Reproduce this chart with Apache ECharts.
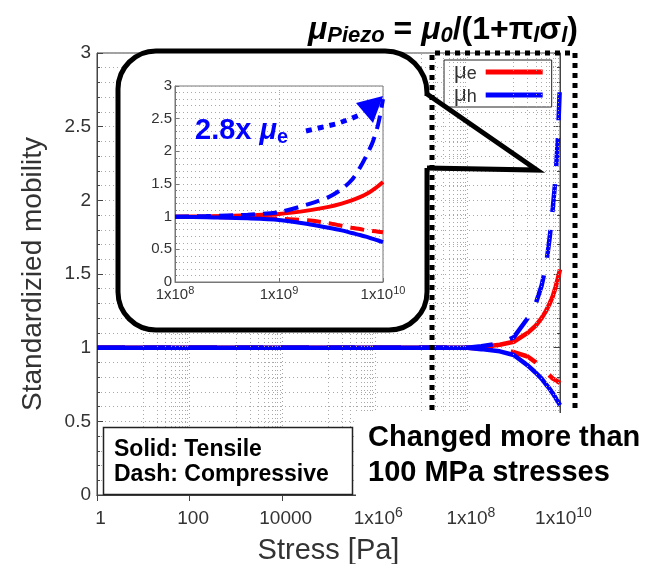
<!DOCTYPE html>
<html>
<head>
<meta charset="utf-8">
<script src="https://cdn.jsdelivr.net/npm/echarts@6/dist/echarts.min.js"></script>
<style>
  html, body { margin: 0; padding: 0; background: #fff; }
  #chart { width: 663px; height: 564px; }
</style>
</head>
<body>
<div id="chart"></div>
<script>
// Applied stress [Pa]
const stress = [1, 10, 100, 1e3, 1e4, 1e5, 1e6, 1e7, 1e8, 2e8, 5e8, 1e9, 2e9, 3e9, 4e9, 5e9, 6e9, 7e9, 8e9, 9e9, 1e10];

// Standardized mobility (mu / mu0)
const electronTensile     = [1, 1, 1, 1, 1, 1, 1, 1, 1.0, 1.005, 1.02, 1.04, 1.1, 1.15, 1.2, 1.25, 1.3, 1.35, 1.41, 1.47, 1.53];
const electronCompressive = [1, 1, 1, 1, 1, 1, 1, 1, 1.0, 0.995, 0.985, 0.97, 0.94, 0.9, 0.86, 0.83, 0.81, 0.79, 0.78, 0.77, 0.76];
const holeTensile         = [1, 1, 1, 1, 1, 1, 1, 1, 1.0, 0.99, 0.975, 0.95, 0.88, 0.83, 0.79, 0.75, 0.72, 0.69, 0.66, 0.635, 0.61];
const holeCompressive     = [1, 1, 1, 1, 1, 1, 1, 1, 1.0, 1.01, 1.03, 1.07, 1.2, 1.3, 1.42, 1.56, 1.75, 1.95, 2.15, 2.42, 2.8];

// Axis ticks
const mainXTicks = [1, 100, 1e4, 1e6, 1e8, 1e10];
const insetXTicks = [1e8, 1e9, 1e10];
const yTicks = [0, 0.5, 1, 1.5, 2, 2.5, 3];

const RED = '#ff0000';
const BLUE = '#0000ff';
const FRAME = '#444';
const TXT = '#333';
const FONT = '"Liberation Sans", Arial, sans-serif';
const GRID_DOT = { color: '#a8a8a8', width: 1, type: [1, 3] };

// minor log grid: 10..90, 1000..9000, ... within every second decade
const mainMinorGrid = [];
[1e1, 1e3, 1e5, 1e7, 1e9].forEach(d => { for (let k = 1; k <= 9; k++) mainMinorGrid.push(k * d); });
const insetMinorGrid = [];
[1e8, 1e9].forEach(d => { for (let k = 2; k <= 9; k++) insetMinorGrid.push(k * d); });

function pairs(vals, minX) {
  const out = [];
  stress.forEach((s, i) => { if (s >= (minX || 0)) out.push([s, vals[i]]); });
  return out;
}

function powLabel(list) {
  return function (v) {
    const e = Math.round(Math.log10(v));
    if (!list.some(t => Math.abs(Math.log10(t) - e) < 1e-6)) return '';
    return e < 6 ? String(Math.round(v)) : '1x10{sup|' + e + '}';
  };
}
function yLabel(v) {
  return yTicks.some(t => Math.abs(t - v) < 1e-9) ? String(v) : '';
}

function gridMarks(values) {
  return {
    silent: true,
    symbol: ['none', 'none'],
    label: { show: false },
    emphasis: { disabled: true },
    lineStyle: GRID_DOT,
    animation: false,
    data: values.map(v => ({ xAxis: v }))
  };
}

const chart = echarts.init(document.getElementById('chart'), null, { renderer: 'canvas' });

const mainSeries = [
  { name: 'μe', data: electronTensile, color: RED, dash: 'solid' },
  { name: 'μe', data: electronCompressive, color: RED, dash: [28, 18] },
  { name: 'μh', data: holeTensile, color: BLUE, dash: 'solid' },
  { name: 'μh', data: holeCompressive, color: BLUE, dash: [28, 18] }
];

const series = [];
series.push({
  type: 'line', xAxisIndex: 0, yAxisIndex: 0, data: [], z: 1, silent: true,
  markLine: gridMarks(mainMinorGrid)
});
mainSeries.forEach(s => {
  series.push({
    type: 'line', name: s.name, xAxisIndex: 0, yAxisIndex: 0,
    data: pairs(s.data), showSymbol: false, symbol: 'none', z: 2,
    color: s.color, itemStyle: { color: s.color },
    lineStyle: { color: s.color, width: 4.5, type: s.dash },
    emphasis: { disabled: true }
  });
});
series.push({
  type: 'line', xAxisIndex: 2, yAxisIndex: 2, data: [], z: 7, silent: true,
  markLine: gridMarks(insetMinorGrid)
});
mainSeries.forEach(s => {
  series.push({
    type: 'line', name: 'inset ' + s.name, xAxisIndex: 2, yAxisIndex: 2,
    data: pairs(s.data, 1e8), showSymbol: false, symbol: 'none', z: 8, smooth: 0.3,
    color: s.color, itemStyle: { color: s.color },
    lineStyle: { color: s.color, width: 4, type: s.dash === 'solid' ? 'solid' : [14, 8] },
    emphasis: { disabled: true }
  });
});

const supRich = (sup) => ({
  sup: { fontSize: sup, lineHeight: sup, verticalAlign: 'top', color: TXT, fontFamily: FONT }
});

const option = {
  animation: false,
  textStyle: { fontFamily: FONT },
  grid: [
    { left: 97, top: 53, width: 463, height: 442, show: true, borderColor: FRAME, borderWidth: 1,
      backgroundColor: '#fff', z: 0, containLabel: false, outerBoundsMode: 'none' },
    { left: 175, top: 86, width: 208, height: 196, show: true, borderColor: '#777', borderWidth: 1,
      backgroundColor: '#fff', z: 6, containLabel: false, outerBoundsMode: 'none' }
  ],
  xAxis: [
    {
      type: 'log', logBase: 100, min: 1, max: 1e10, gridIndex: 0, position: 'bottom',
      axisLine: { show: true, lineStyle: { color: FRAME } },
      axisTick: { show: true, inside: true, length: 6, lineStyle: { color: FRAME } },
      axisLabel: { formatter: powLabel(mainXTicks), fontSize: 19, color: TXT, margin: 11, lineHeight: 26,
                   padding: [0, 0, 0, 7], rich: supRich(14) },
      splitLine: { show: true, lineStyle: GRID_DOT },
      name: 'Stress [Pa]', nameLocation: 'middle', nameGap: 37,
      nameTextStyle: { fontSize: 29, color: TXT, fontFamily: FONT }
    },
    {
      type: 'log', logBase: 100, min: 1, max: 1e10, gridIndex: 0, position: 'top',
      axisLine: { show: true, lineStyle: { color: FRAME } },
      axisTick: { show: true, inside: true, length: 6, lineStyle: { color: FRAME } },
      axisLabel: { show: false }, splitLine: { show: false }
    },
    {
      type: 'log', logBase: 10, min: 1e8, max: 1e10, gridIndex: 1, z: 7,
      axisLine: { show: true, lineStyle: { color: '#777' } },
      axisTick: { show: true, inside: true, length: 4, lineStyle: { color: '#777' } },
      axisLabel: { formatter: powLabel(insetXTicks), fontSize: 15, color: TXT, margin: 3, lineHeight: 20, rich: supRich(11) },
      splitLine: { show: true, lineStyle: GRID_DOT }
    }
  ],
  yAxis: [
    {
      type: 'value', min: 0, max: 3, interval: 0.5, gridIndex: 0,
      axisLine: { show: true, lineStyle: { color: FRAME } },
      axisTick: { show: true, inside: true, length: 6, lineStyle: { color: FRAME } },
      minorTick: { show: true, splitNumber: 5, length: 3, lineStyle: { color: FRAME } },
      axisLabel: { formatter: yLabel, fontSize: 19, color: TXT, margin: 6 },
      splitLine: { show: true, lineStyle: GRID_DOT },
      minorSplitLine: { show: true, lineStyle: GRID_DOT },
      name: 'Standardizied mobility', nameLocation: 'middle', nameGap: 50,
      nameTextStyle: { fontSize: 28, color: TXT, fontFamily: FONT }
    },
    {
      type: 'value', min: 0, max: 3, interval: 0.5, gridIndex: 0, position: 'right',
      axisLine: { show: true, lineStyle: { color: FRAME } },
      axisTick: { show: true, inside: true, length: 6, lineStyle: { color: FRAME } },
      minorTick: { show: true, splitNumber: 5, length: 3, lineStyle: { color: FRAME } },
      axisLabel: { show: false }, splitLine: { show: false }
    },
    {
      type: 'value', min: 0, max: 3, interval: 0.5, gridIndex: 1, z: 7,
      axisLine: { show: true, lineStyle: { color: '#777' } },
      axisTick: { show: true, inside: true, length: 4, lineStyle: { color: '#777' } },
      minorTick: { show: true, splitNumber: 5, length: 2, lineStyle: { color: '#777' } },
      axisLabel: { formatter: yLabel, fontSize: 15, color: TXT, margin: 3 },
      splitLine: { show: true, lineStyle: GRID_DOT },
      minorSplitLine: { show: true, lineStyle: GRID_DOT }
    }
  ],
  legend: {
    data: ['μe', 'μh'], left: 444, top: 60, orient: 'vertical', align: 'right',
    icon: 'rect', itemWidth: 57, itemHeight: 5, itemGap: 1,
    padding: [1, 9, 1, 10], borderColor: '#222', borderWidth: 1, backgroundColor: '#fff',
    selectedMode: false,
    formatter: n => '{m|μ}{s|' + n.slice(1) + '}',
    textStyle: {
      color: TXT, fontSize: 21,
      rich: {
        m: { fontSize: 22, lineHeight: 22, color: TXT, fontFamily: FONT },
        s: { fontSize: 18, lineHeight: 12, verticalAlign: 'bottom', color: TXT, fontFamily: FONT, padding: [0, 4, 0, 0] }
      }
    }
  },
  series: series,
  graphic: [
    // callout holding the close-up view
    {
      type: 'rect', z: 5, z2: 1, silent: true,
      shape: { x: 118, y: 51, width: 309, height: 279, r: [38, 42, 38, 38] },
      style: { fill: '#fff', stroke: '#000', lineWidth: 5 }
    },
    {
      type: 'rect', z: 5, z2: 2, silent: true,
      shape: { x: 424, y: 96, width: 8, height: 72 },
      style: { fill: '#fff' }
    },
    {
      type: 'polyline', z: 5, z2: 3, silent: true,
      shape: { points: [[427, 94], [537, 170], [427, 168]] },
      style: { stroke: '#000', lineWidth: 5, fill: null, lineJoin: 'miter' }
    },
    // dotted highlight of the high-stress region
    {
      type: 'polyline', z: 9, silent: true,
      shape: { points: [[432, 420], [432, 53], [575, 53], [575, 420]] },
      style: { stroke: '#000', lineWidth: 5, lineDash: [5, 5], fill: null, lineCap: 'butt' }
    },
    // annotation arrow inside the close-up
    {
      type: 'polyline', z: 10, silent: true,
      shape: { points: [[306, 131], [321, 127.5], [336, 124], [350, 119], [362, 114]] },
      style: { stroke: BLUE, lineWidth: 5, lineDash: [6, 6], fill: null }
    },
    {
      type: 'polygon', z: 10, silent: true,
      shape: { points: [[356, 103], [373, 123], [383, 96]] },
      style: { fill: BLUE }
    },
    {
      type: 'text', z: 10, silent: true,
      style: {
        x: 195, y: 131, verticalAlign: 'middle', align: 'left',
        text: '{b|2.8x }{m|μ}{s|e}',
        rich: {
          b: { fontSize: 29, fontWeight: 'bold', lineHeight: 32, fill: BLUE, fontFamily: FONT },
          m: { fontSize: 29, fontWeight: 'bold', fontStyle: 'italic', lineHeight: 32, fill: BLUE, fontFamily: FONT },
          s: { fontSize: 20, fontWeight: 'bold', lineHeight: 18, verticalAlign: 'bottom', fill: BLUE, fontFamily: FONT }
        }
      }
    },
    // white panel behind the right-hand note
    {
      type: 'rect', z: 11, silent: true,
      shape: { x: 356, y: 413, width: 307, height: 88 },
      style: { fill: '#fff' }
    },
    {
      type: 'text', z: 12, silent: true,
      style: {
        x: 368, y: 420, align: 'left', verticalAlign: 'top',
        text: 'Changed more than\n100 MPa stresses',
        font: 'bold 29px ' + FONT, lineHeight: 35, fill: '#000'
      }
    },
    // line style key
    {
      type: 'rect', z: 11, silent: true,
      shape: { x: 103.5, y: 427.5, width: 249, height: 67 },
      style: { fill: '#fff', stroke: '#222', lineWidth: 1.5 }
    },
    {
      type: 'text', z: 12, silent: true,
      style: {
        x: 114, y: 437.5, align: 'left', verticalAlign: 'top',
        text: 'Solid: Tensile\nDash: Compressive',
        font: 'bold 23px ' + FONT, lineHeight: 25, fill: '#000'
      }
    },
    // piezoresistive mobility relation
    {
      type: 'text', z: 12, silent: true,
      style: {
        x: 578, y: 30, align: 'right', verticalAlign: 'middle',
        text: '{mi|μ}{s|Piezo}{m| = }{mi|μ}{s|0}{m|/(1+π}{s|l}{m|σ}{s|l}{m|)}',
        rich: {
          m:  { fontSize: 32, fontWeight: 'bold', lineHeight: 34, fill: '#000', fontFamily: FONT },
          mi: { fontSize: 32, fontWeight: 'bold', fontStyle: 'italic', lineHeight: 34, fill: '#000', fontFamily: FONT },
          s:  { fontSize: 22, fontWeight: 'bold', fontStyle: 'italic', lineHeight: 20, verticalAlign: 'bottom', fill: '#000', fontFamily: FONT }
        }
      }
    }
  ]
};

chart.setOption(option);
</script>
</body>
</html>
